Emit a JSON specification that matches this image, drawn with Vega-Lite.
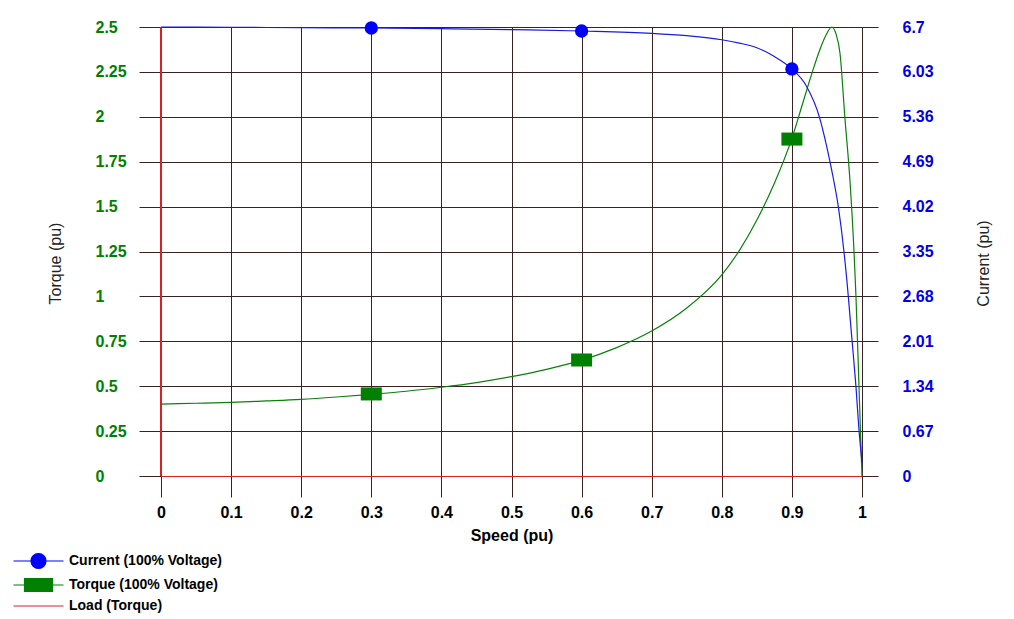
{
  "$schema": "https://vega.github.io/schema/vega-lite/v6.json",
  "width": 701,
  "height": 449,
  "autosize": {"type": "none"},
  "padding": {"left": 161, "top": 27, "right": 152, "bottom": 143},
  "background": "white",
  "config": {
    "font": "Liberation Sans",
    "view": {"stroke": null}
  },
  "datasets": {
    "torque": [
      {"speed": 0, "torque": 0.40}, {"speed": 0.05, "torque": 0.405}, {"speed": 0.1, "torque": 0.41},
      {"speed": 0.15, "torque": 0.418}, {"speed": 0.2, "torque": 0.427}, {"speed": 0.25, "torque": 0.44},
      {"speed": 0.3, "torque": 0.455}, {"speed": 0.35, "torque": 0.472}, {"speed": 0.4, "torque": 0.494},
      {"speed": 0.45, "torque": 0.52}, {"speed": 0.5, "torque": 0.553}, {"speed": 0.55, "torque": 0.594},
      {"speed": 0.6, "torque": 0.645}, {"speed": 0.65, "torque": 0.715}, {"speed": 0.7, "torque": 0.807},
      {"speed": 0.75, "torque": 0.935}, {"speed": 0.8, "torque": 1.12}, {"speed": 0.825, "torque": 1.255},
      {"speed": 0.85, "torque": 1.425}, {"speed": 0.875, "torque": 1.63}, {"speed": 0.9, "torque": 1.88},
      {"speed": 0.915, "torque": 2.07}, {"speed": 0.93, "torque": 2.26}, {"speed": 0.94, "torque": 2.375},
      {"speed": 0.948, "torque": 2.45}, {"speed": 0.957, "torque": 2.50}, {"speed": 0.963, "torque": 2.46},
      {"speed": 0.9686, "torque": 2.354}, {"speed": 0.9757, "torque": 1.99}, {"speed": 0.9829, "torque": 1.64},
      {"speed": 0.9886, "torque": 1.25}, {"speed": 0.9914, "torque": 1.0}, {"speed": 0.9957, "torque": 0.5},
      {"speed": 0.9978, "torque": 0.25}, {"speed": 1.0, "torque": 0.0}
    ],
    "current": [
      {"speed": 0, "current": 6.70}, {"speed": 0.1, "current": 6.695}, {"speed": 0.2, "current": 6.69},
      {"speed": 0.3, "current": 6.685}, {"speed": 0.4, "current": 6.675}, {"speed": 0.5, "current": 6.66},
      {"speed": 0.6, "current": 6.64}, {"speed": 0.7, "current": 6.606}, {"speed": 0.75, "current": 6.57},
      {"speed": 0.8, "current": 6.51}, {"speed": 0.825, "current": 6.46}, {"speed": 0.85, "current": 6.39},
      {"speed": 0.875, "current": 6.26}, {"speed": 0.9, "current": 6.074}, {"speed": 0.92, "current": 5.83},
      {"speed": 0.94, "current": 5.33}, {"speed": 0.95, "current": 4.9}, {"speed": 0.9567, "current": 4.567},
      {"speed": 0.9662, "current": 4.019}, {"speed": 0.9743, "current": 3.347}, {"speed": 0.9805, "current": 2.676},
      {"speed": 0.984, "current": 2.24}, {"speed": 0.987, "current": 1.88}, {"speed": 0.9914, "current": 1.333},
      {"speed": 0.9957, "current": 0.686}, {"speed": 1.0, "current": 0.2}
    ],
    "tmark": [
      {"speed": 0.3, "torque": 0.457}, {"speed": 0.6, "torque": 0.646}, {"speed": 0.9, "torque": 1.876}
    ],
    "cmark": [
      {"speed": 0.3, "current": 6.685}, {"speed": 0.6, "current": 6.64}, {"speed": 0.9, "current": 6.074}
    ],
    "load": [
      {"speed": 0, "torque": 0, "series": "Load (Torque)"},
      {"speed": 1, "torque": 0, "series": "Load (Torque)"}
    ],
    "zeroSpeed": [
      {"speed": 0, "torque": 0, "torque2": 2.5}
    ]
  },
  "encoding": {
    "x": {
      "field": "speed", "type": "quantitative",
      "scale": {"domain": [0, 1], "nice": false, "zero": false},
      "axis": {
        "title": "Speed (pu)",
        "values": [0, 0.1, 0.2, 0.3, 0.4, 0.5, 0.6, 0.7, 0.8, 0.9, 1],
        "format": ".1~f",
        "domain": false,
        "grid": true,
        "gridColor": "#3a2222",
        "gridOpacity": 1,
        "gridWidth": 1,
        "ticks": true,
        "tickSize": 21,
        "tickColor": "#3a2222",
        "labelFont": "Liberation Sans",
        "labelFontSize": 16,
        "labelFontWeight": "bold",
        "labelColor": "#000000",
        "labelBaseline": "middle",
        "labelPadding": 15,
        "labelFlush": false,
        "titleFont": "Liberation Sans",
        "titleFontSize": 16,
        "titleFontWeight": "bold",
        "titleColor": "#000000",
        "titleBaseline": "middle",
        "titleY": 59
      }
    }
  },
  "layer": [
    {
      "layer": [
        {
          "data": {"name": "zeroSpeed"},
          "mark": {"type": "rule", "color": "#dc2020", "strokeWidth": 2},
          "encoding": {
            "y": {
              "field": "torque", "type": "quantitative",
              "scale": {"domain": [0, 2.5], "nice": false, "zero": false},
              "axis": {
                "title": "Torque (pu)",
                "values": [0, 0.25, 0.5, 0.75, 1, 1.25, 1.5, 1.75, 2, 2.25, 2.5],
                "format": ".2~f",
                "domain": false,
                "grid": true,
                "gridColor": "#3a2222",
                "gridOpacity": 1,
                "ticks": true,
                "tickSize": 22,
                "tickColor": "#3a2222",
                "labelFont": "Liberation Sans",
                "labelFontSize": 16,
                "labelFontWeight": "bold",
                "labelColor": "#008000",
                "labelAlign": "left",
                "labelPadding": 44,
                "labelFlush": false,
                "titleFont": "Liberation Sans",
                "titleFontSize": 16,
                "titleFontWeight": "normal",
                "titleColor": "#222222",
                "titleAngle": 270,
                "titleAlign": "center",
                "titleBaseline": "middle",
                "titleX": -106,
                "titleY": 236
              }
            },
            "y2": {"field": "torque2"}
          }
        },
        {
          "data": {"name": "load"},
          "mark": {"type": "line", "color": "#dc2020", "strokeWidth": 1.2, "yOffset": 0.5},
          "encoding": {"y": {"field": "torque", "type": "quantitative"}}
        },
        {
          "data": {"name": "torque"},
          "mark": {"type": "line", "color": "#0a800a", "strokeWidth": 1.2, "interpolate": "monotone"},
          "encoding": {"y": {"field": "torque", "type": "quantitative"}}
        },
        {
          "data": {"name": "tmark"},
          "mark": {"type": "point", "filled": true, "opacity": 1, "color": "#008000", "size": 441, "shape": "M-1,-0.62H1V0.62H-1Z", "strokeWidth": 0},
          "encoding": {"y": {"field": "torque", "type": "quantitative"}}
        },
        {
          "data": {"name": "load"},
          "mark": {"type": "point", "filled": true, "opacity": 0, "size": 100},
          "encoding": {
            "y": {"field": "torque", "type": "quantitative"},
            "color": {
              "field": "series", "type": "nominal",
              "scale": {
                "domain": ["Current (100% Voltage)", "Torque (100% Voltage)", "Load (Torque)"],
                "range": ["#0000ff", "#008000", "#dc2020"]
              },
              "legend": {
                "title": null,
                "orient": "none",
                "legendX": -129.5,
                "legendY": 527,
                "padding": 0,
                "rowPadding": 5,
                "symbolSize": 100,
                "symbolOpacity": 1,
                "symbolOffset": 0,
                "labelOffset": 23.5,
                "labelFont": "Liberation Sans",
                "labelFontSize": 14,
                "labelFontWeight": "bold",
                "labelColor": "#000000",
                "labelLimit": 400,
                "encode": {
                  "symbols": {
                    "update": {
                      "stroke": {"scale": "color", "field": "value"},
                      "fill": {"scale": "color", "field": "value"},
                      "strokeWidth": {"value": 1.2},
                      "opacity": {"value": 1}
                    }
                  }
                }
              }
            },
            "shape": {
              "field": "series", "type": "nominal",
              "scale": {
                "domain": ["Current (100% Voltage)", "Torque (100% Voltage)", "Load (Torque)"],
                "range": [
                  "M-5,0H5M1.5,0A1.5,1.5 0 1,1 -1.5,0A1.5,1.5 0 1,1 1.5,0Z",
                  "M-5,0H5M-2.8,-1.3H2.8V1.3H-2.8Z",
                  "M-5,0H5"
                ]
              },
              "legend": {
                "title": null,
                "orient": "none",
                "legendX": -129.5,
                "legendY": 527,
                "padding": 0,
                "rowPadding": 5,
                "symbolSize": 100,
                "symbolOpacity": 1,
                "symbolOffset": 0,
                "labelOffset": 23.5,
                "labelFont": "Liberation Sans",
                "labelFontSize": 14,
                "labelFontWeight": "bold",
                "labelColor": "#000000",
                "labelLimit": 400
              }
            }
          }
        }
      ]
    },
    {
      "layer": [
        {
          "data": {"name": "current"},
          "mark": {"type": "line", "color": "#1a1ae0", "strokeWidth": 1.2, "interpolate": "monotone"},
          "encoding": {
            "y": {
              "field": "current", "type": "quantitative",
              "scale": {"domain": [0, 6.7], "nice": false, "zero": false},
              "axis": {
                "orient": "right",
                "title": "Current (pu)",
                "values": [0, 0.67, 1.34, 2.01, 2.68, 3.35, 4.02, 4.69, 5.36, 6.03, 6.7],
                "format": ".2~f",
                "domain": false,
                "grid": false,
                "ticks": true,
                "tickSize": 16,
                "tickColor": "#3a2222",
                "labelFont": "Liberation Sans",
                "labelFontSize": 16,
                "labelFontWeight": "bold",
                "labelColor": "#0000e6",
                "labelAlign": "left",
                "labelPadding": 24,
                "labelFlush": false,
                "titleFont": "Liberation Sans",
                "titleFontSize": 16,
                "titleFontWeight": "normal",
                "titleColor": "#222222",
                "titleAngle": 270,
                "titleAlign": "center",
                "titleBaseline": "middle",
                "titleX": 121,
                "titleY": 236
              }
            }
          }
        },
        {
          "data": {"name": "cmark"},
          "mark": {"type": "point", "filled": true, "opacity": 1, "color": "#0000ff", "size": 177, "shape": "circle", "strokeWidth": 0},
          "encoding": {"y": {"field": "current", "type": "quantitative"}}
        }
      ]
    }
  ],
  "resolve": {"scale": {"y": "independent"}}
}
